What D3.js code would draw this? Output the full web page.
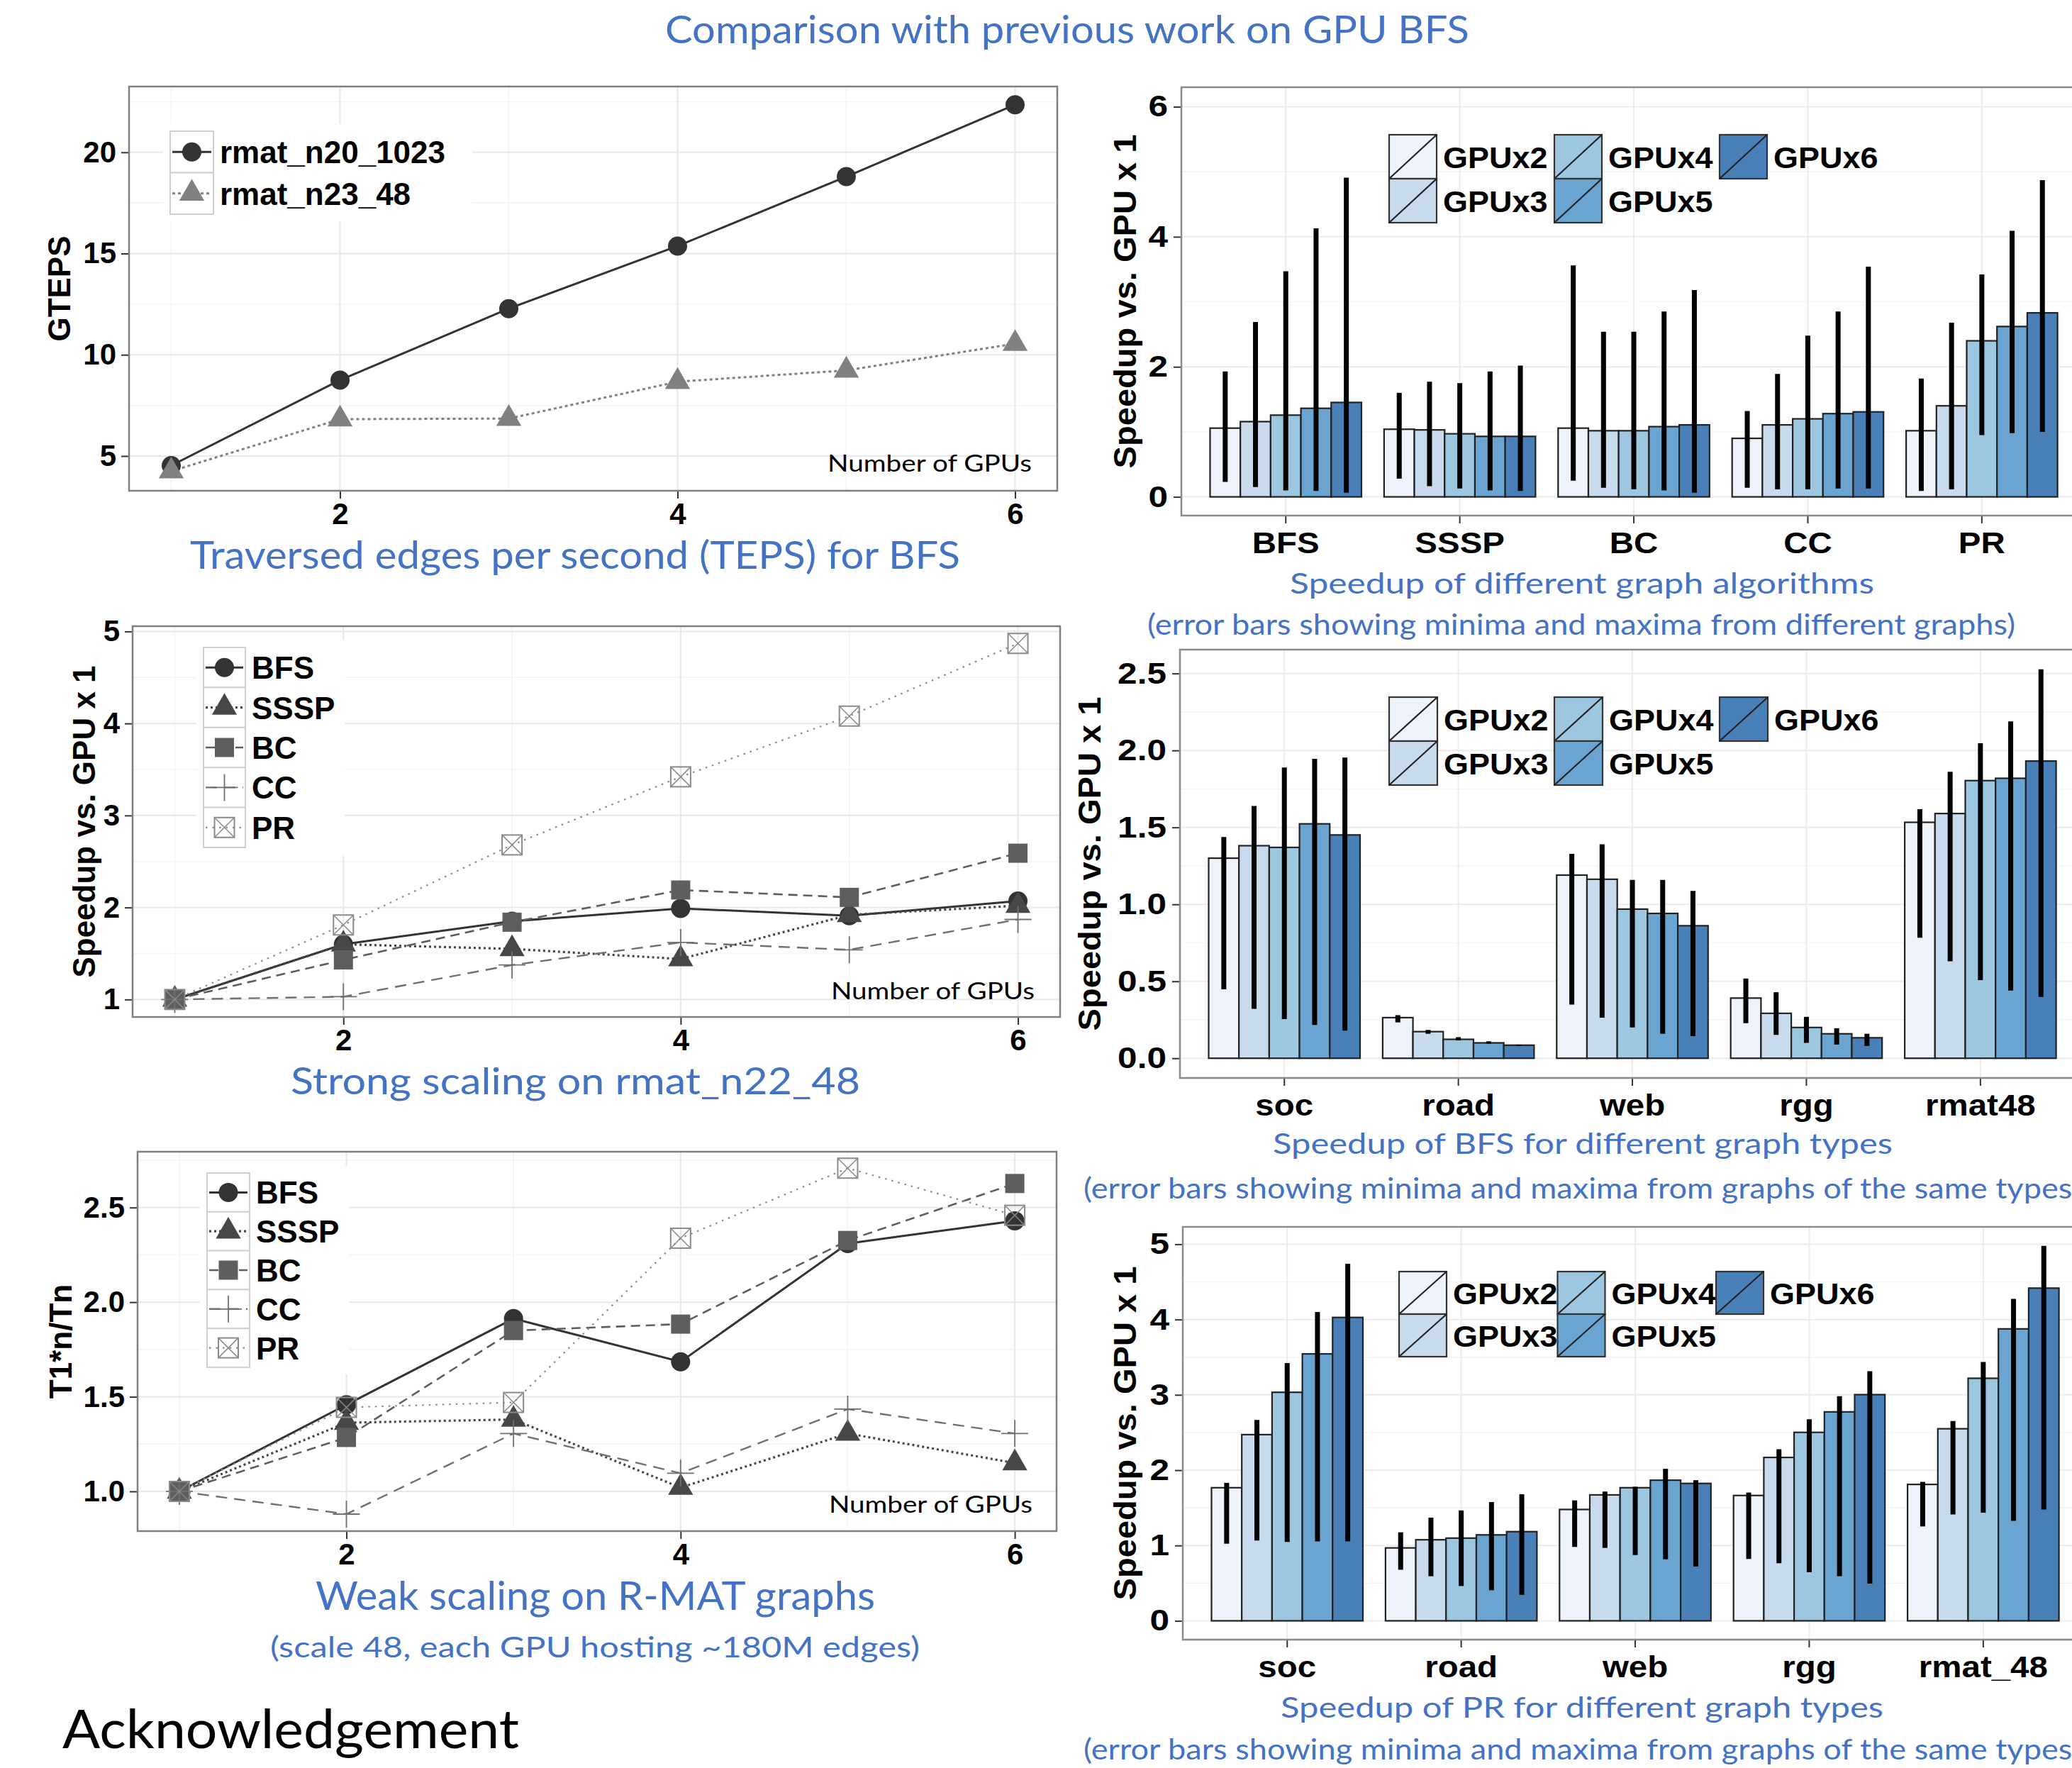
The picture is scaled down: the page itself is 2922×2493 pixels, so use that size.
<!DOCTYPE html>
<html>
<head>
<meta charset="utf-8">
<script src="https://cdn.jsdelivr.net/npm/d3@7"></script>
<style>
  body { margin: 0; background: #fff; }
  svg { display: block; }
  .bold { font-family: "Liberation Sans", Arial, Helvetica, sans-serif; font-weight: bold; }
  .cal { font-family: Lato, "Open Sans", sans-serif; }
</style>
</head>
<body>
<svg id="chart" width="2922" height="2493"></svg>
<script>
// ---- data ----
const gpuCounts = [1, 2, 3, 4, 5, 6];

const tepsNames = ["rmat_n20_1023", "rmat_n23_48"];
const tepsN20 = [4.53, 8.75, 12.28, 15.37, 18.8, 22.35];
const tepsN23 = [4.25, 6.82, 6.85, 8.67, 9.23, 10.55];

const algoNames = ["BFS", "SSSP", "BC", "CC", "PR"];
const strongBFS = [1, 1.6, 1.85, 1.99, 1.91, 2.07];
const strongSSSP = [1, 1.6, 1.55, 1.44, 1.92, 2.02];
const strongBC = [1, 1.43, 1.84, 2.19, 2.11, 2.59];
const strongCC = [1, 1.03, 1.375, 1.62, 1.54, 1.87];
const strongPR = [1, 1.81, 2.68, 3.42, 4.08, 4.87];

const weakBFS = [1, 1.458, 1.913, 1.685, 2.31, 2.43];
const weakSSSP = [1, 1.363, 1.38, 1.02, 1.306, 1.15];
const weakBC = [1, 1.285, 1.85, 1.884, 2.326, 2.627];
const weakCC = [1, 0.88, 1.306, 1.096, 1.435, 1.306];
const weakPR = [1, 1.444, 1.47, 2.338, 2.708, 2.459];

const gpuLabels = ["GPUx2", "GPUx3", "GPUx4", "GPUx5", "GPUx6"];

// rows = categories, columns = GPUx2..GPUx6
const algoMean = [
  [1.057, 1.157, 1.257, 1.362, 1.452],
  [1.04, 1.03, 0.97, 0.93, 0.93],
  [1.057, 1.017, 1.017, 1.08, 1.107],
  [0.90, 1.107, 1.20, 1.28, 1.307],
  [1.017, 1.40, 2.40, 2.62, 2.83]
];
const algoLo = [
  [0.23, 0.15, 0.10, 0.09, 0.065],
  [0.28, 0.165, 0.13, 0.10, 0.09],
  [0.25, 0.14, 0.115, 0.10, 0.065],
  [0.14, 0.115, 0.115, 0.13, 0.13],
  [0.09, 0.115, 0.95, 0.98, 1.0]
];
const algoHi = [
  [1.93, 2.69, 3.47, 4.13, 4.91],
  [1.60, 1.77, 1.75, 1.93, 2.02],
  [3.56, 2.54, 2.54, 2.85, 3.18],
  [1.32, 1.89, 2.48, 2.85, 3.54],
  [1.82, 2.68, 3.42, 4.09, 4.87]
];

const bfsTypes = ["soc", "road", "web", "rgg", "rmat48"];
const bfsMean = [
  [1.30, 1.381, 1.37, 1.523, 1.451],
  [0.264, 0.173, 0.123, 0.10, 0.085],
  [1.19, 1.163, 0.969, 0.941, 0.861],
  [0.391, 0.292, 0.20, 0.159, 0.133],
  [1.533, 1.59, 1.804, 1.819, 1.931]
];
const bfsLo = [
  [0.448, 0.321, 0.254, 0.216, 0.18],
  [0.233, 0.159, 0.116, 0.095, 0.082],
  [0.349, 0.264, 0.20, 0.159, 0.144],
  [0.228, 0.152, 0.10, 0.089, 0.08],
  [0.783, 0.63, 0.508, 0.44, 0.398]
];
const bfsHi = [
  [1.438, 1.639, 1.889, 1.946, 1.954],
  [0.28, 0.184, 0.137, 0.11, 0.088],
  [1.328, 1.39, 1.159, 1.159, 1.087],
  [0.518, 0.429, 0.269, 0.195, 0.159],
  [1.618, 1.861, 2.047, 2.189, 2.527]
];

const prTypes = ["soc", "road", "web", "rgg", "rmat_48"];
const prMean = [
  [1.767, 2.472, 3.034, 3.544, 4.028],
  [0.968, 1.076, 1.098, 1.141, 1.184],
  [1.478, 1.672, 1.767, 1.867, 1.824],
  [1.664, 2.169, 2.502, 2.774, 3.003],
  [1.811, 2.55, 3.22, 3.876, 4.417]
];
const prLo = [
  [1.024, 1.067, 1.046, 1.054, 1.054],
  [0.678, 0.592, 0.462, 0.406, 0.346],
  [0.981, 0.968, 0.873, 0.817, 0.722],
  [0.821, 0.765, 0.644, 0.592, 0.493],
  [1.253, 1.413, 1.435, 1.327, 1.478]
];
const prHi = [
  [1.832, 2.666, 3.423, 4.10, 4.741],
  [1.175, 1.37, 1.465, 1.577, 1.681],
  [1.599, 1.716, 1.78, 2.018, 1.867],
  [1.703, 2.277, 2.675, 2.982, 3.315],
  [1.845, 2.653, 3.436, 4.274, 4.978]
];

// ---- styles ----
const blue = "#4472c4";
const barColors = ["#eef2fa", "#c8dbec", "#9dc6e0", "#6aa5d2", "#4a80b8"];
const algoStyles = {
  BFS:  { color: "#333333", dash: null, width: 3, shape: "circle" },
  SSSP: { color: "#474747", dash: "3,4", width: 3.2, shape: "triangle" },
  BC:   { color: "#5e5e5e", dash: "13,8", width: 2.6, shape: "square" },
  CC:   { color: "#707070", dash: "16,10", width: 2.4, shape: "plus" },
  PR:   { color: "#8a8a8a", dash: "2.5,7", width: 2.2, shape: "boxx" }
};
const tepsStyles = [
  { color: "#333333", dash: null, width: 3, shape: "circle" },
  { color: "#808080", dash: "4,4", width: 3, shape: "triangle" }
];

const svg = d3.select("#chart");
svg.append("rect").attr("width", 2922).attr("height", 2493).attr("fill", "#fff");

function stretch(sel, k) {
  sel.each(function () {
    const len = this.getComputedTextLength();
    d3.select(this).attr("textLength", len * k).attr("lengthAdjust", "spacingAndGlyphs");
  });
}

function caption(txt, x0, x1, base, size, color) {
  return svg.append("text").attr("class", "cal")
    .attr("x", x0).attr("y", base)
    .attr("font-size", size).attr("fill", color || blue)
    .attr("textLength", x1 - x0).attr("lengthAdjust", "spacingAndGlyphs")
    .text(txt);
}

function styleAxis(g, fs, k) {
  g.select(".domain").remove();
  g.selectAll("line").attr("stroke", "#333").attr("stroke-width", 2);
  g.selectAll("text").attr("class", "bold").attr("font-size", fs).attr("fill", "#000");
  if (k) stretch(g.selectAll("text"), k);
}

function marker(g, st, cx, cy) {
  if (st.shape === "circle") {
    g.append("circle").attr("cx", cx).attr("cy", cy).attr("r", 13.5).attr("fill", st.color);
  } else if (st.shape === "triangle") {
    g.append("path").attr("d", d3.symbol(d3.symbolTriangle, 540)())
      .attr("transform", `translate(${cx},${cy})`).attr("fill", st.color);
  } else if (st.shape === "square") {
    g.append("rect").attr("x", cx - 13.5).attr("y", cy - 13.5).attr("width", 27).attr("height", 27)
      .attr("fill", st.color);
  } else if (st.shape === "plus") {
    g.append("path").attr("d", `M${cx - 19},${cy}H${cx + 19}M${cx},${cy - 19}V${cy + 19}`)
      .attr("stroke", st.color).attr("stroke-width", 1.8).attr("fill", "none");
  } else if (st.shape === "boxx") {
    const h = 14;
    g.append("rect").attr("x", cx - h).attr("y", cy - h).attr("width", 2 * h).attr("height", 2 * h)
      .attr("fill", "none").attr("stroke", st.color).attr("stroke-width", 2);
    g.append("path").attr("d", `M${cx - h},${cy - h}L${cx + h},${cy + h}M${cx + h},${cy - h}L${cx - h},${cy + h}`)
      .attr("stroke", st.color).attr("stroke-width", 1.5).attr("fill", "none");
  }
}

// ---- line panels (left column) ----
function linePanel(p) {
  const x = d3.scaleLinear().domain([0.75, 6.25]).range([p.x0, p.x1]);
  const y = d3.scaleLinear().domain(p.yDomain).range([p.y1, p.y0]);
  const g = svg.append("g");

  g.selectAll(".ymin").data(p.yMinor).join("line")
    .attr("x1", p.x0).attr("x2", p.x1).attr("y1", d => y(d)).attr("y2", d => y(d))
    .attr("stroke", "#f4f4f4").attr("stroke-width", 1.5);
  g.selectAll(".xmin").data([1, 3, 5]).join("line")
    .attr("x1", d => x(d)).attr("x2", d => x(d)).attr("y1", p.y0).attr("y2", p.y1)
    .attr("stroke", "#f4f4f4").attr("stroke-width", 1.5);
  g.selectAll(".ymaj").data(p.yTicks).join("line")
    .attr("x1", p.x0).attr("x2", p.x1).attr("y1", d => y(d)).attr("y2", d => y(d))
    .attr("stroke", "#e8e8e8").attr("stroke-width", 2);
  g.selectAll(".xmaj").data([2, 4, 6]).join("line")
    .attr("x1", d => x(d)).attr("x2", d => x(d)).attr("y1", p.y0).attr("y2", p.y1)
    .attr("stroke", "#e8e8e8").attr("stroke-width", 2);

  const ya = g.append("g").attr("transform", `translate(${p.x0},0)`)
    .call(d3.axisLeft(y).tickValues(p.yTicks).tickFormat(p.fmt).tickSize(11).tickPadding(7));
  styleAxis(ya, 42);
  const xa = g.append("g").attr("transform", `translate(0,${p.y1})`)
    .call(d3.axisBottom(x).tickValues([2, 4, 6]).tickFormat(d3.format("d")).tickSize(11).tickPadding(6));
  styleAxis(xa, 42);

  const line = d3.line().x((d, i) => x(gpuCounts[i])).y(d => y(d));
  p.series.forEach(s => {
    g.append("path").attr("d", line(s.values)).attr("fill", "none")
      .attr("stroke", s.style.color).attr("stroke-width", s.style.width)
      .attr("stroke-dasharray", s.style.dash);
  });
  p.series.forEach(s => s.values.forEach((v, i) => marker(g, s.style, x(gpuCounts[i]), y(v))));

  g.append("rect").attr("x", p.x0).attr("y", p.y0).attr("width", p.x1 - p.x0).attr("height", p.y1 - p.y0)
    .attr("fill", "none").attr("stroke", "#7f7f7f").attr("stroke-width", 2.5);

  // legend
  const L = p.legend;
  const lg = g.append("g");
  lg.append("rect").attr("x", L.x - 10).attr("y", L.y - 10)
    .attr("width", L.w + L.textW + 30).attr("height", L.h * p.series.length + 20).attr("fill", "#fff");
  p.series.forEach((s, i) => {
    const ky = L.y + i * L.h;
    lg.append("rect").attr("x", L.x).attr("y", ky).attr("width", L.w).attr("height", L.h)
      .attr("fill", "#fff").attr("stroke", "#cfcfcf").attr("stroke-width", 2);
    lg.append("line").attr("x1", L.x + 3).attr("x2", L.x + L.w - 3)
      .attr("y1", ky + L.h / 2).attr("y2", ky + L.h / 2)
      .attr("stroke", s.style.color).attr("stroke-width", s.style.width)
      .attr("stroke-dasharray", s.style.dash);
    marker(lg, s.style, L.x + L.w / 2, ky + L.h / 2);
    lg.append("text").attr("class", "bold").attr("font-size", 44)
      .attr("x", L.x + L.w + 9).attr("y", ky + L.h / 2 + 16).text(s.name);
  });

  g.append("text").attr("class", "cal").attr("font-size", 33)
    .attr("x", p.nog[0]).attr("y", p.nog[2])
    .attr("textLength", p.nog[1] - p.nog[0]).attr("lengthAdjust", "spacingAndGlyphs")
    .text("Number of GPUs");

  g.append("text").attr("class", "bold").attr("font-size", 44).attr("text-anchor", "middle")
    .attr("transform", `translate(${p.titleX},${(p.y0 + p.y1) / 2}) rotate(-90)`)
    .text(p.yTitle);
}

linePanel({
  x0: 182, x1: 1491, y0: 122, y1: 692,
  yDomain: [3.284, 23.25], yTicks: [5, 10, 15, 20], yMinor: [7.5, 12.5, 17.5, 22.5],
  fmt: d3.format("d"),
  series: [
    { name: tepsNames[0], values: tepsN20, style: tepsStyles[0] },
    { name: tepsNames[1], values: tepsN23, style: tepsStyles[1] }
  ],
  legend: { x: 240, y: 185, w: 61, h: 58.5, textW: 345 },
  nog: [1167, 1455, 665],
  yTitle: "GTEPS", titleX: 99
});

linePanel({
  x0: 187, x1: 1495, y0: 883, y1: 1434,
  yDomain: [0.81, 5.057], yTicks: [1, 2, 3, 4, 5], yMinor: [1.5, 2.5, 3.5, 4.5],
  fmt: d3.format("d"),
  series: [
    { name: "BFS", values: strongBFS, style: algoStyles.BFS },
    { name: "SSSP", values: strongSSSP, style: algoStyles.SSSP },
    { name: "BC", values: strongBC, style: algoStyles.BC },
    { name: "CC", values: strongCC, style: algoStyles.CC },
    { name: "PR", values: strongPR, style: algoStyles.PR }
  ],
  legend: { x: 287, y: 913, w: 59, h: 56.4, textW: 120 },
  nog: [1172, 1459, 1409],
  yTitle: "Speedup vs. GPU x 1", titleX: 134
});

linePanel({
  x0: 194, x1: 1490, y0: 1624, y1: 2159,
  yDomain: [0.79, 2.795], yTicks: [1, 1.5, 2, 2.5], yMinor: [1.25, 1.75, 2.25, 2.75],
  fmt: d3.format(".1f"),
  series: [
    { name: "BFS", values: weakBFS, style: algoStyles.BFS },
    { name: "SSSP", values: weakSSSP, style: algoStyles.SSSP },
    { name: "BC", values: weakBC, style: algoStyles.BC },
    { name: "CC", values: weakCC, style: algoStyles.CC },
    { name: "PR", values: weakPR, style: algoStyles.PR }
  ],
  legend: { x: 292, y: 1654, w: 60, h: 54.8, textW: 120 },
  nog: [1169, 1456, 2133],
  yTitle: "T1*n/Tn", titleX: 101
});

// ---- bar panels (right column) ----
function barPanel(p) {
  const unit = 245.4;
  const x = d3.scaleBand().domain(p.cats).range([p.x0, p.x0 + 5.2 * unit])
    .paddingInner(0).paddingOuter(0.1);
  const bw = x.bandwidth();
  const xs = d3.scaleBand().domain(gpuLabels).range([0.065 * bw, 0.935 * bw]);
  const y = d3.scaleLinear().domain(p.yDomain).range([p.y1, p.y0]);
  const xEnd = p.x0 + 5.2 * unit;
  const g = svg.append("g");

  g.selectAll(".ymin").data(p.yMinor).join("line")
    .attr("x1", p.x0).attr("x2", xEnd).attr("y1", d => y(d)).attr("y2", d => y(d))
    .attr("stroke", "#f4f4f4").attr("stroke-width", 1.5);
  g.selectAll(".ymaj").data(p.yTicks).join("line")
    .attr("x1", p.x0).attr("x2", xEnd).attr("y1", d => y(d)).attr("y2", d => y(d))
    .attr("stroke", "#ececec").attr("stroke-width", 2);
  g.selectAll(".xmaj").data(p.cats).join("line")
    .attr("x1", d => x(d) + bw / 2).attr("x2", d => x(d) + bw / 2).attr("y1", p.y0).attr("y2", p.y1)
    .attr("stroke", "#ececec").attr("stroke-width", 2);

  const ya = g.append("g").attr("transform", `translate(${p.x0},0)`)
    .call(d3.axisLeft(y).tickValues(p.yTicks).tickFormat(p.fmt).tickSize(11).tickPadding(8));
  styleAxis(ya, 42, 1.18);
  const xa = g.append("g").attr("transform", `translate(0,${p.y1})`)
    .call(d3.axisBottom(x).tickSize(11).tickPadding(12));
  styleAxis(xa, 42, 1.13);

  p.cats.forEach((c, ci) => {
    gpuLabels.forEach((s, si) => {
      const v = p.mean[ci][si];
      g.append("rect").attr("x", x(c) + xs(s)).attr("width", xs.bandwidth())
        .attr("y", y(v)).attr("height", y(0) - y(v))
        .attr("fill", barColors[si]).attr("stroke", "#222").attr("stroke-width", 2.2);
    });
  });
  p.cats.forEach((c, ci) => {
    gpuLabels.forEach((s, si) => {
      const cx = x(c) + xs(s) + xs.bandwidth() / 2;
      g.append("line").attr("x1", cx).attr("x2", cx)
        .attr("y1", y(p.lo[ci][si])).attr("y2", y(p.hi[ci][si]))
        .attr("stroke", "#000").attr("stroke-width", 7);
    });
  });

  g.append("rect").attr("x", p.x0).attr("y", p.y0).attr("width", xEnd - p.x0).attr("height", p.y1 - p.y0)
    .attr("fill", "none").attr("stroke", "#8a8a8a").attr("stroke-width", 2.5);

  // legend: two rows, filled column by column
  const L = p.legend;
  gpuLabels.forEach((s, i) => {
    const col = Math.floor(i / 2), row = i % 2;
    const kx = L.x + col * L.step, ky = L.y + row * L.h;
    g.append("rect").attr("x", kx).attr("y", ky).attr("width", L.w).attr("height", L.h)
      .attr("fill", barColors[i]).attr("stroke", "#333").attr("stroke-width", 2.2);
    g.append("line").attr("x1", kx).attr("y1", ky + L.h).attr("x2", kx + L.w).attr("y2", ky)
      .attr("stroke", "#222").attr("stroke-width", 2.2);
    const t = g.append("text").attr("class", "bold").attr("font-size", 42)
      .attr("x", kx + L.w + 9).attr("y", ky + L.h / 2 + 16).text(s);
    stretch(t, 1.07);
  });

  const tt = g.append("text").attr("class", "bold").attr("font-size", 44).attr("text-anchor", "middle")
    .attr("transform", `translate(${p.titleX},${(p.y0 + p.y1) / 2}) rotate(-90)`)
    .text("Speedup vs. GPU x 1");
  stretch(tt, 1.07);
}

barPanel({
  x0: 1666, y0: 123, y1: 727, cats: algoNames,
  mean: algoMean, lo: algoLo, hi: algoHi,
  yDomain: [-0.288, 6.30], yTicks: [0, 2, 4, 6], yMinor: [1, 3, 5], fmt: d3.format("d"),
  legend: { x: 1959, y: 190, w: 67, h: 62, step: 233 },
  titleX: 1602
});

barPanel({
  x0: 1664, y0: 916, y1: 1520, cats: bfsTypes,
  mean: bfsMean, lo: bfsLo, hi: bfsHi,
  yDomain: [-0.128, 2.655], yTicks: [0, 0.5, 1, 1.5, 2, 2.5], yMinor: [0.25, 0.75, 1.25, 1.75, 2.25],
  fmt: d3.format(".1f"),
  legend: { x: 1959, y: 983, w: 68, h: 62, step: 233 },
  titleX: 1552
});

barPanel({
  x0: 1668, y0: 1730, y1: 2312, cats: prTypes,
  mean: prMean, lo: prLo, hi: prHi,
  yDomain: [-0.25, 5.23], yTicks: [0, 1, 2, 3, 4, 5], yMinor: [0.5, 1.5, 2.5, 3.5, 4.5],
  fmt: d3.format("d"),
  legend: { x: 1973, y: 1793, w: 67, h: 60, step: 223.5 },
  titleX: 1602
});

// ---- titles and captions ----
caption("Comparison with previous work on GPU BFS", 938, 2072, 61, 54);
caption("Traversed edges per second (TEPS) for BFS", 268, 1354, 802, 54);
caption("Strong scaling on rmat_n22_48", 410, 1213, 1543, 53);
caption("Weak scaling on R-MAT graphs", 445, 1234, 2270, 56);
caption("(scale 48, each GPU hosting ~180M edges)", 381, 1297, 2337, 40);
caption("Acknowledgement", 88, 732, 2465, 76, "#000");

caption("Speedup of different graph algorithms", 1819, 2643, 837, 40);
const sub4 = caption("(error bars showing minima and maxima from different graphs)", 1618, 2842, 895, 40);
caption("Speedup of BFS for different graph types", 1795, 2669, 1627, 40);
caption("Speedup of PR for different graph types", 1806, 2656, 2422, 41);

// the same-types note runs off the right edge, so scale it like the first note
sub4.attr("textLength", null);
const k = 1224 / sub4.node().getComputedTextLength();
sub4.attr("textLength", 1224);
[1690, 2481].forEach(base => {
  const t = svg.append("text").attr("class", "cal").attr("x", 1528).attr("y", base)
    .attr("font-size", 40).attr("fill", blue)
    .text("(error bars showing minima and maxima from graphs of the same types)");
  stretch(t, k);
});
</script>
</body>
</html>
